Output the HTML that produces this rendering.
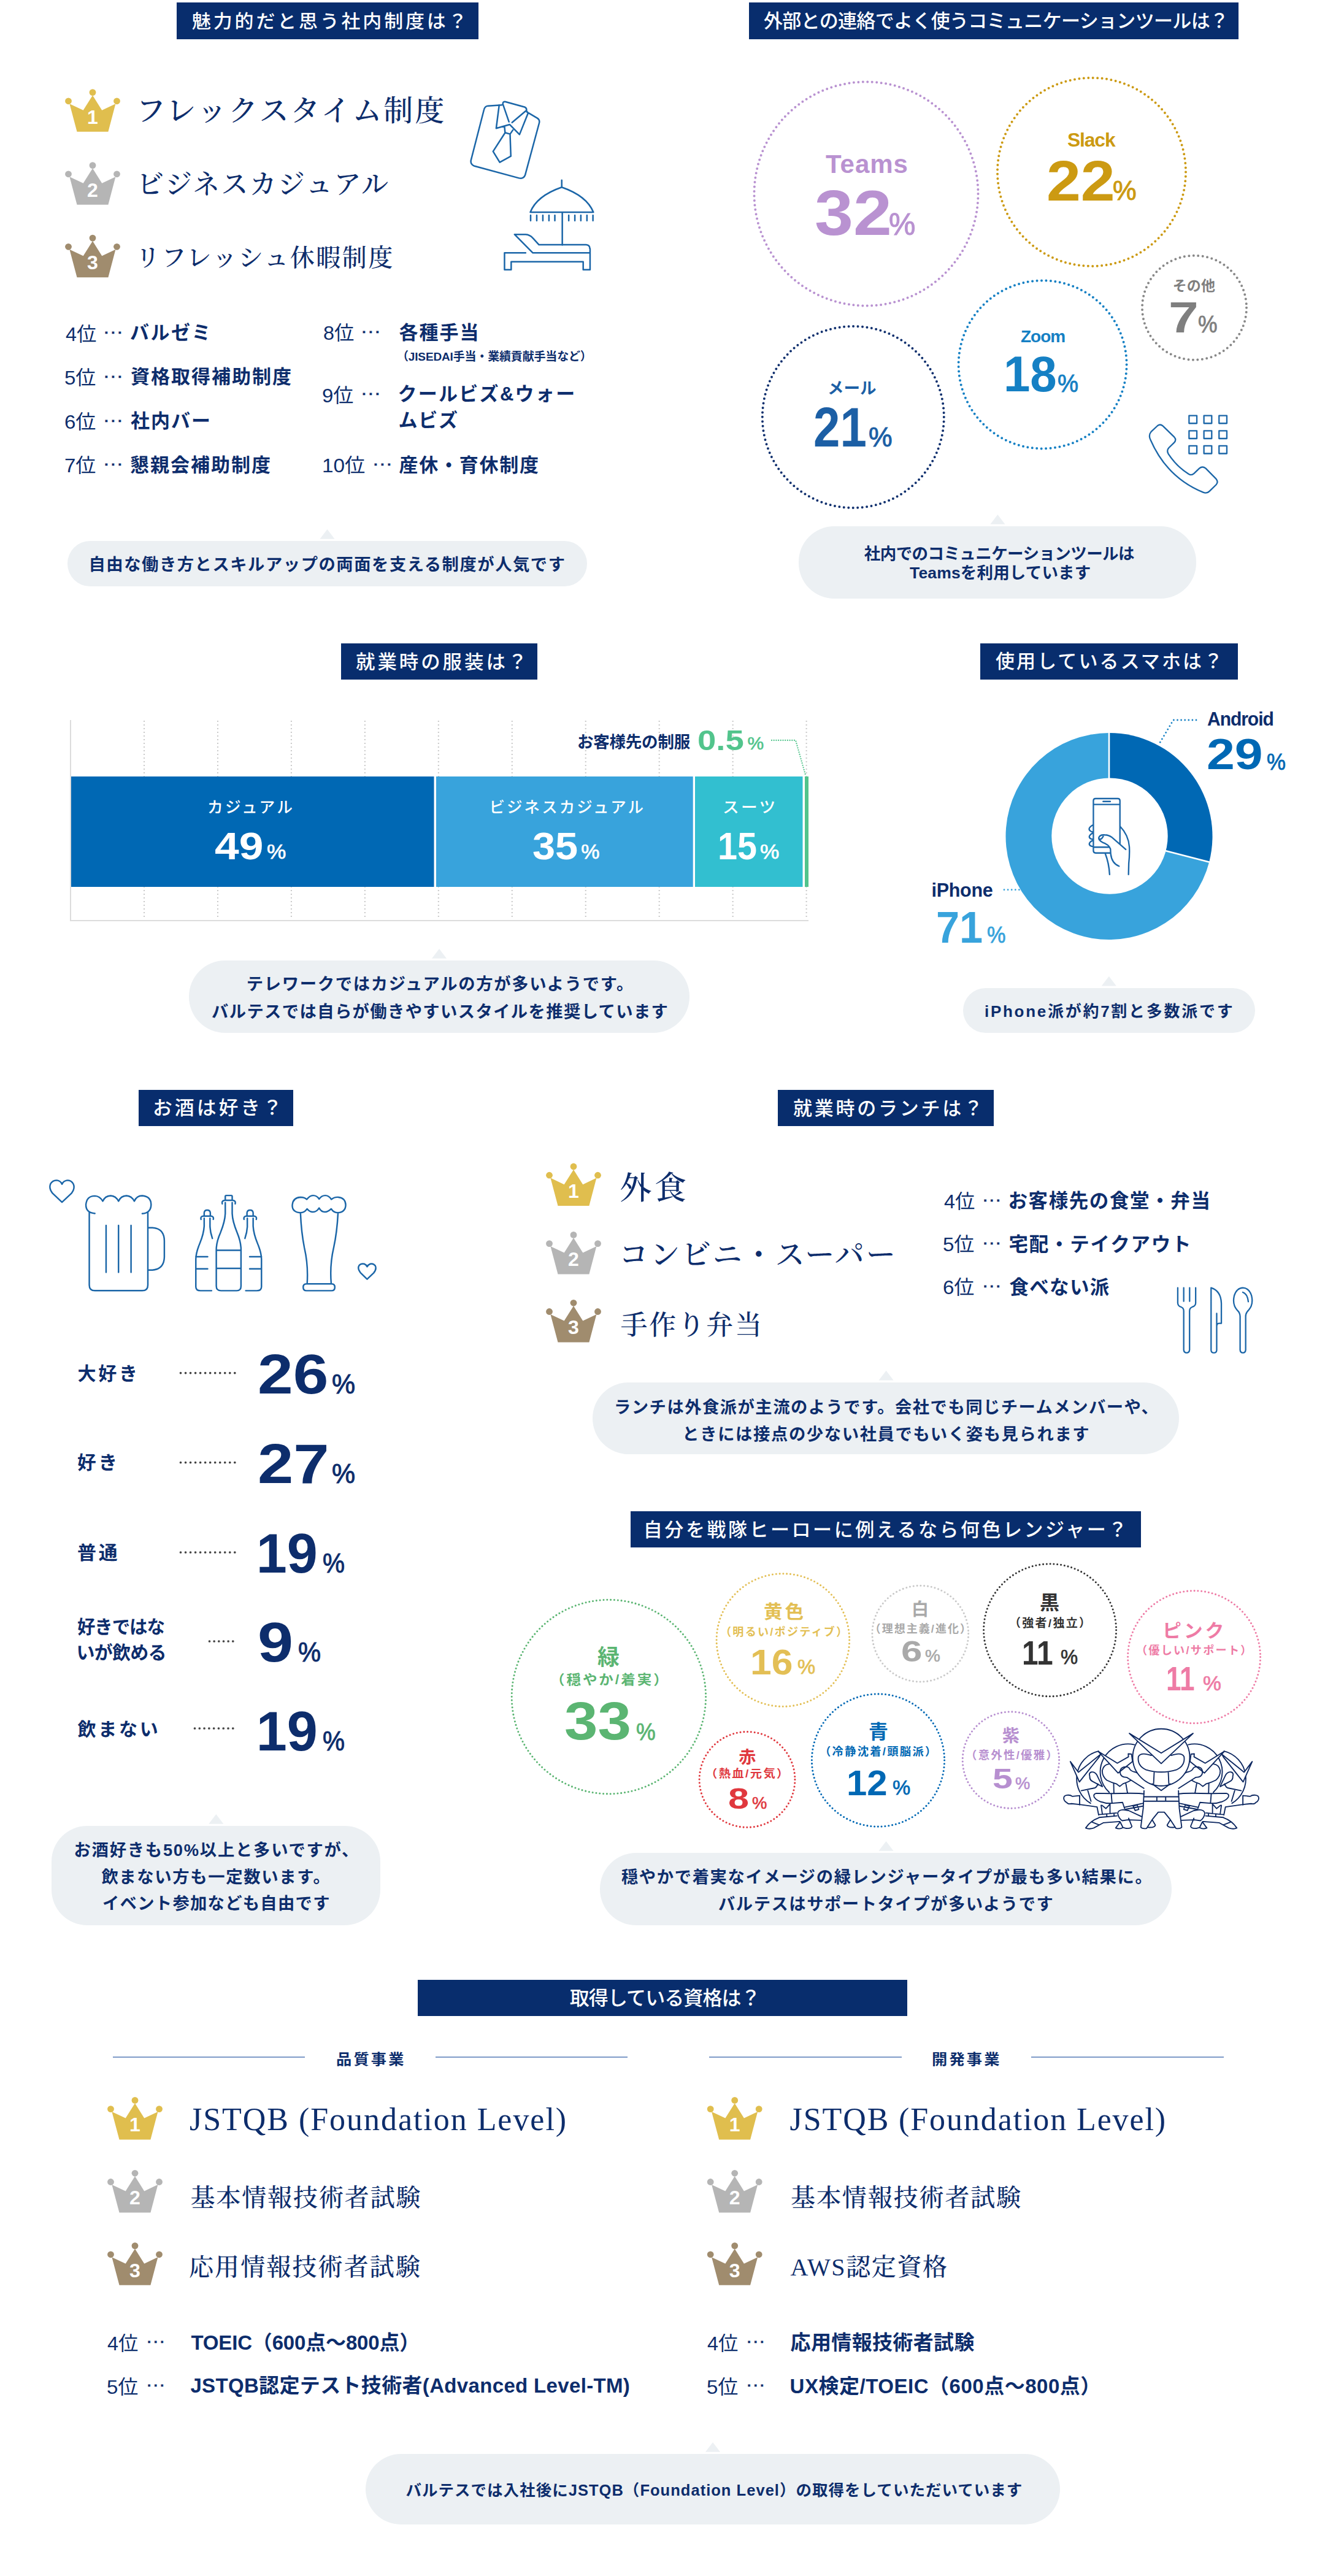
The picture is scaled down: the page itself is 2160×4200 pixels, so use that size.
<!DOCTYPE html>
<html lang="ja"><head><meta charset="utf-8"><title>アンケート結果</title>
<style>
html,body{margin:0;padding:0;background:#fff}
body{width:2160px;height:4200px;position:relative;overflow:hidden;color:#0d2d6c;font-family:"Liberation Sans","Noto Sans CJK JP",sans-serif}
.t{position:absolute;white-space:nowrap;font-weight:700;transform-origin:0 50%;margin:0}
.s{font-family:"Liberation Sans","Noto Sans CJK JP",sans-serif}.m{font-family:"Liberation Serif","Noto Serif CJK JP","Noto Serif CJK SC",serif}
.bx{position:absolute}
.tt{position:absolute;background:#082d6d}
.bb{position:absolute;background:#ecf0f3}
svg{position:absolute;left:0;top:0}
</style></head><body>
<section aria-label="魅力的だと思う社内制度は？">
<div class="tt" style="left:288px;top:4px;width:492px;height:60px"></div>
<div class="bb" style="left:110px;top:882px;width:847px;height:73.5px;border-radius:36.75px"></div>
<svg width="2160" height="4200" viewBox="0 0 2160 4200" aria-hidden="true">
<g transform="translate(106 146)" fill="#e0be4e"><circle cx="5.5" cy="18.8" r="5.4"/><circle cx="45" cy="4.6" r="5.4"/><circle cx="84.5" cy="18.8" r="5.4"/><path d="M7.4 23.2L19.5 68.7H70.4L82.4 23.2L60.2 33.8L45 9.5L29.7 33.8Z"/></g>
<g transform="translate(106 265)" fill="#b5b5b5"><circle cx="5.5" cy="18.8" r="5.4"/><circle cx="45" cy="4.6" r="5.4"/><circle cx="84.5" cy="18.8" r="5.4"/><path d="M7.4 23.2L19.5 68.7H70.4L82.4 23.2L60.2 33.8L45 9.5L29.7 33.8Z"/></g>
<g transform="translate(106 383.5)" fill="#a08c6e"><circle cx="5.5" cy="18.8" r="5.4"/><circle cx="45" cy="4.6" r="5.4"/><circle cx="84.5" cy="18.8" r="5.4"/><path d="M7.4 23.2L19.5 68.7H70.4L82.4 23.2L60.2 33.8L45 9.5L29.7 33.8Z"/></g>
<path d="M533.5 863.1 l12 15.7 h-24z" fill="#ecf0f3"/>
<g transform="translate(750 150) scale(0.18113)" fill="none" stroke="#1b66a8" stroke-width="13.80" stroke-linejoin="round" stroke-linecap="round"><path d="M375 117L250 125Q222 130 215 160L98 615Q92 650 125 665L530 775Q570 785 585 750L712 280Q720 250 695 235L602 180M385 108Q383 84 410 88L580 135Q603 145 597 168L612 190L535 383L447 293L325 327L352 118M385 108L440 268M592 170L468 275M400 313L405 366L450 379L475 343M405 367L297 535L357 633L457 578L450 380"/></g>
<g transform="translate(750 150) scale(0.18113)" fill="none" stroke="#1b66a8" stroke-width="13.80" stroke-linejoin="round" stroke-linecap="round"><path d="M915 793V856M632 1082Q690 935 915 857Q1140 935 1200 1082ZM920 1082V1378M635 1110V1158M690 1110V1158M745 1110V1158M800 1110V1158M853 1110V1158M978 1110V1158M1033 1110V1158M1087 1110V1158M1142 1110V1158M1196 1110V1158M655 1448L490 1282L590 1282Q630 1285 655 1315L710 1375L1135 1375Q1168 1378 1168 1410M655 1448L1168 1448M590 1448L400 1448L400 1600L460 1600L460 1528L1108 1528L1108 1600L1170 1600L1170 1410"/></g>
</svg>
<h2 class="t s" style="left:313.0px;top:15.0px;font-size:30px;line-height:39px;font-weight:500;color:#fff;letter-spacing:3.75px;transform:scaleX(1.031)">魅力的だと思う社内制度は？</h2>
<div class="t s" style="left:142.0px;top:169.6px;font-size:32px;line-height:42px;color:#fff">1</div>
<div class="t s" style="left:142.0px;top:288.6px;font-size:32px;line-height:42px;color:#fff">2</div>
<div class="t s" style="left:142.0px;top:407.1px;font-size:32px;line-height:42px;color:#fff">3</div>
<div class="t m" style="left:222.0px;top:149.5px;font-size:48px;line-height:62px;font-weight:500;letter-spacing:2.89px">フレックスタイム制度</div>
<div class="t m" style="left:223.0px;top:272.5px;font-size:44px;line-height:57px;font-weight:500;letter-spacing:2.25px">ビジネスカジュアル</div>
<div class="t m" style="left:221.0px;top:395.0px;font-size:40px;line-height:52px;font-weight:500;letter-spacing:2.44px">リフレッシュ休暇制度</div>
<div class="t s" style="left:106.5px;top:523.5px;font-size:32px;line-height:42px;font-weight:400;transform:scaleX(1.010)">4位</div>
<div class="t s" style="left:166.7px;top:512.0px;font-size:32px;line-height:42px;font-weight:400;-webkit-text-stroke:0.38px #0d2d6c;transform:scaleX(1.083)">…</div>
<div class="t s" style="left:105.4px;top:595.0px;font-size:32px;line-height:42px;font-weight:400;transform:scaleX(1.032)">5位</div>
<div class="t s" style="left:166.7px;top:583.5px;font-size:32px;line-height:42px;font-weight:400;-webkit-text-stroke:0.38px #0d2d6c;transform:scaleX(1.083)">…</div>
<div class="t s" style="left:105.4px;top:667.0px;font-size:32px;line-height:42px;font-weight:400;transform:scaleX(1.032)">6位</div>
<div class="t s" style="left:166.7px;top:655.5px;font-size:32px;line-height:42px;font-weight:400;-webkit-text-stroke:0.38px #0d2d6c;transform:scaleX(1.083)">…</div>
<div class="t s" style="left:105.4px;top:738.0px;font-size:32px;line-height:42px;font-weight:400;transform:scaleX(1.032)">7位</div>
<div class="t s" style="left:166.7px;top:726.5px;font-size:32px;line-height:42px;font-weight:400;-webkit-text-stroke:0.38px #0d2d6c;transform:scaleX(1.083)">…</div>
<div class="t s" style="left:212.0px;top:523.0px;font-size:31px;line-height:40px;letter-spacing:2.47px">バルゼミ</div>
<div class="t s" style="left:213.0px;top:594.5px;font-size:31px;line-height:40px;letter-spacing:2.00px">資格取得補助制度</div>
<div class="t s" style="left:213.0px;top:666.5px;font-size:31px;line-height:40px;letter-spacing:2.00px">社内バー</div>
<div class="t s" style="left:212.0px;top:738.5px;font-size:31px;line-height:40px;letter-spacing:2.00px">懇親会補助制度</div>
<div class="t s" style="left:526.5px;top:522.0px;font-size:32px;line-height:42px;font-weight:400;transform:scaleX(1.010)">8位</div>
<div class="t s" style="left:586.7px;top:510.5px;font-size:32px;line-height:42px;font-weight:400;-webkit-text-stroke:0.38px #0d2d6c;transform:scaleX(1.083)">…</div>
<div class="t s" style="left:525.4px;top:623.5px;font-size:32px;line-height:42px;font-weight:400;transform:scaleX(1.032)">9位</div>
<div class="t s" style="left:586.7px;top:612.0px;font-size:32px;line-height:42px;font-weight:400;-webkit-text-stroke:0.38px #0d2d6c;transform:scaleX(1.083)">…</div>
<div class="t s" style="left:525.4px;top:738.0px;font-size:32px;line-height:42px;font-weight:400;transform:scaleX(1.039)">10位</div>
<div class="t s" style="left:605.7px;top:726.5px;font-size:32px;line-height:42px;font-weight:400;-webkit-text-stroke:0.38px #0d2d6c;transform:scaleX(1.083)">…</div>
<div class="t s" style="left:650.5px;top:522.5px;font-size:31px;line-height:40px;letter-spacing:2.00px">各種手当</div>
<div class="t s" style="left:647.0px;top:568.5px;font-size:19px;line-height:25px;letter-spacing:-0.16px">（JISEDAI手当・業績貢献手当など）</div>
<div class="t s" style="left:648.5px;top:623.0px;font-size:31px;line-height:40px;letter-spacing:2.28px">クールビズ&amp;ウォー</div>
<div class="t s" style="left:649.5px;top:665.6px;font-size:31px;line-height:40px;letter-spacing:1.75px">ムビズ</div>
<div class="t s" style="left:650.5px;top:738.5px;font-size:31px;line-height:40px;letter-spacing:1.75px">産休・育休制度</div>
<div class="t s" style="left:144.5px;top:902.5px;font-size:27.3px;line-height:35px;letter-spacing:1.55px">自由な働き方とスキルアップの両面を支える制度が人気です</div>
</section>
<section aria-label="外部との連絡でよく使うコミュニケーションツールは？">
<div class="tt" style="left:1221px;top:4px;width:798px;height:60px"></div>
<div class="bb" style="left:1302px;top:858px;width:648px;height:117.5px;border-radius:58px"></div>
<svg width="2160" height="4200" viewBox="0 0 2160 4200" aria-hidden="true">
<circle cx="1412" cy="316" r="182.5" fill="none" stroke="#b992d1" stroke-width="4" stroke-linecap="round" stroke-dasharray="0 7.495"/>
<circle cx="1779.5" cy="280.4" r="153.5" fill="none" stroke="#cc9a12" stroke-width="4" stroke-linecap="round" stroke-dasharray="0 7.477"/>
<circle cx="1947" cy="501.7" r="85" fill="none" stroke="#888" stroke-width="4" stroke-linecap="round" stroke-dasharray="0 7.522"/>
<circle cx="1699.6" cy="594.4" r="137" fill="none" stroke="#1580c4" stroke-width="4" stroke-linecap="round" stroke-dasharray="0 7.485"/>
<circle cx="1390.8" cy="680" r="148" fill="none" stroke="#10306e" stroke-width="4" stroke-linecap="round" stroke-dasharray="0 7.499"/>
<path d="M1626.4 839.1 l12 15.7 h-24z" fill="#ecf0f3"/>
<g transform="translate(1860 665) scale(0.12075)" fill="none" stroke="#1b66a8" stroke-width="19.05" stroke-linejoin="round" stroke-linecap="round"><path d="M649 104h105v105h-105zM649 309h105v105h-105zM649 512h105v105h-105zM850 104h105v105h-105zM850 309h105v105h-105zM850 512h105v105h-105zM1054 104h105v105h-105zM1054 309h105v105h-105zM1054 512h105v105h-105zM225 240Q260 213 297 245L450 395Q482 430 450 467L375 540Q343 575 370 622Q480 790 645 895Q682 917 717 885L790 815Q830 783 872 815L1015 960Q1048 1000 1015 1037L925 1125Q890 1162 838 1140Q350 940 128 430Q98 370 137 322Z"/></g>
</svg>
<h2 class="t s" style="left:1245.0px;top:15.0px;font-size:31px;line-height:40px;font-weight:500;color:#fff;letter-spacing:-0.67px">外部との連絡でよく使うコミュニケーションツールは？</h2>
<div class="t s" style="left:1346.0px;top:240.0px;font-size:42px;line-height:55px;color:#b992d1;letter-spacing:1.00px">Teams</div>
<div class="t s" style="left:1327.7px;top:281.0px;font-size:103px;line-height:134px;color:#b992d1;transform:scaleX(1.098)">32</div>
<div class="t s" style="left:1449.0px;top:334.0px;font-size:50px;line-height:65px;font-weight:400;color:#b992d1;-webkit-text-stroke:1.10px #b992d1;transform:scaleX(0.976)">%</div>
<div class="t s" style="left:1740.0px;top:207.0px;font-size:32px;line-height:42px;color:#cc9a12;letter-spacing:-1.12px;transform:scaleX(0.993)">Slack</div>
<div class="t s" style="left:1705.7px;top:234.8px;font-size:92px;line-height:120px;color:#cc9a12;transform:scaleX(1.092)">22</div>
<div class="t s" style="left:1814.0px;top:282.3px;font-size:45px;line-height:58px;font-weight:400;color:#cc9a12;-webkit-text-stroke:0.99px #cc9a12;transform:scaleX(0.966)">%</div>
<div class="t s" style="left:1911.7px;top:450.5px;font-size:23px;line-height:30px;color:#7f7f7f;letter-spacing:0.15px">その他</div>
<div class="t s" style="left:1904.9px;top:472.5px;font-size:70px;line-height:91px;color:#7f7f7f;transform:scaleX(1.252)">7</div>
<div class="t s" style="left:1952.8px;top:505.0px;font-size:38px;line-height:49px;font-weight:400;color:#7f7f7f;-webkit-text-stroke:0.84px #7f7f7f;transform:scaleX(0.934)">%</div>
<div class="t s" style="left:1664.0px;top:531.2px;font-size:28px;line-height:36px;color:#1580c4;letter-spacing:-0.98px">Zoom</div>
<div class="t s" style="left:1635.6px;top:556.1px;font-size:82px;line-height:107px;color:#1580c4;transform:scaleX(0.951)">18</div>
<div class="t s" style="left:1724.3px;top:599.1px;font-size:40px;line-height:52px;font-weight:400;color:#1580c4;-webkit-text-stroke:0.88px #1580c4;transform:scaleX(0.956)">%</div>
<div class="t s" style="left:1349.0px;top:615.5px;font-size:26.5px;line-height:34px;color:#1c5fa5">メール</div>
<div class="t s" style="left:1325.8px;top:638.8px;font-size:90px;line-height:117px;color:#1c5fa5;transform:scaleX(0.867)">21</div>
<div class="t s" style="left:1416.3px;top:684.0px;font-size:44px;line-height:57px;font-weight:400;color:#1c5fa5;-webkit-text-stroke:0.97px #1c5fa5;transform:scaleX(0.986)">%</div>
<div class="t s" style="left:1408.8px;top:886.0px;font-size:26.5px;line-height:34px;letter-spacing:-0.58px">社内でのコミュニケーションツールは</div>
<div class="t s" style="left:1483.0px;top:917.1px;font-size:26.5px;line-height:34px;letter-spacing:0.17px">Teamsを利用しています</div>
</section>
<section aria-label="就業時の服装は？">
<div class="tt" style="left:556px;top:1048.5px;width:320px;height:59px"></div>
<div class="bx" style="left:114px;top:1174px;width:2px;height:327px;background:#dcdcdc"></div>
<div class="bx" style="left:114px;top:1499.5px;width:1204px;height:2px;background:#dcdcdc"></div>
<div class="bb" style="left:308px;top:1566px;width:816px;height:117.5px;border-radius:58.75px"></div>
<svg width="2160" height="4200" viewBox="0 0 2160 4200" aria-hidden="true">
<path d="M235 1175V1499" stroke="#c9c9c9" stroke-width="2" stroke-dasharray="2 4" fill="none"/>
<path d="M354.956 1175V1499" stroke="#c9c9c9" stroke-width="2" stroke-dasharray="2 4" fill="none"/>
<path d="M474.911 1175V1499" stroke="#c9c9c9" stroke-width="2" stroke-dasharray="2 4" fill="none"/>
<path d="M594.867 1175V1499" stroke="#c9c9c9" stroke-width="2" stroke-dasharray="2 4" fill="none"/>
<path d="M714.822 1175V1499" stroke="#c9c9c9" stroke-width="2" stroke-dasharray="2 4" fill="none"/>
<path d="M834.778 1175V1499" stroke="#c9c9c9" stroke-width="2" stroke-dasharray="2 4" fill="none"/>
<path d="M954.733 1175V1499" stroke="#c9c9c9" stroke-width="2" stroke-dasharray="2 4" fill="none"/>
<path d="M1074.69 1175V1499" stroke="#c9c9c9" stroke-width="2" stroke-dasharray="2 4" fill="none"/>
<path d="M1194.64 1175V1499" stroke="#c9c9c9" stroke-width="2" stroke-dasharray="2 4" fill="none"/>
<path d="M1314.6 1175V1499" stroke="#c9c9c9" stroke-width="2" stroke-dasharray="2 4" fill="none"/>
<rect x="116" y="1266" width="591.5" height="180" fill="#0068b4"/>
<rect x="711" y="1266" width="418.7" height="180" fill="#38a3dc"/>
<rect x="1133" y="1266" width="175.5" height="180" fill="#32bfd0"/>
<rect x="1312" y="1266" width="6" height="180" fill="#52c48c"/>
<polyline points="1258,1207 1297,1207 1313.5,1265" fill="none" stroke="#52c48c" stroke-width="2.3" stroke-linecap="round" stroke-linejoin="round" stroke-dasharray="0 3.7"/>
<path d="M716 1547.1 l12 15.7 h-24z" fill="#ecf0f3"/>
</svg>
<h2 class="t s" style="left:580.0px;top:1059.5px;font-size:31px;line-height:40px;font-weight:500;color:#fff;letter-spacing:3.88px;transform:scaleX(1.015)">就業時の服装は？</h2>
<div class="t s" style="left:338.0px;top:1300.0px;font-size:25.5px;line-height:33px;font-weight:500;color:#fff;letter-spacing:3.19px;transform:scaleX(1.009)">カジュアル</div>
<div class="t s" style="left:350.2px;top:1338.2px;font-size:63px;line-height:82px;color:#fff;transform:scaleX(1.133)">49</div>
<div class="t s" style="left:434.7px;top:1366.2px;font-size:34px;line-height:44px;font-weight:400;color:#fff;-webkit-text-stroke:0.75px #fff;transform:scaleX(1.036)">%</div>
<div class="t s" style="left:797.4px;top:1300.3px;font-size:25.5px;line-height:33px;font-weight:500;color:#fff;letter-spacing:3.08px">ビジネスカジュアル</div>
<div class="t s" style="left:867.8px;top:1338.2px;font-size:63px;line-height:82px;color:#fff;transform:scaleX(1.059)">35</div>
<div class="t s" style="left:947.3px;top:1366.2px;font-size:34px;line-height:44px;font-weight:400;color:#fff;-webkit-text-stroke:0.75px #fff">%</div>
<div class="t s" style="left:1177.9px;top:1299.8px;font-size:25.5px;line-height:33px;font-weight:500;color:#fff;letter-spacing:3.19px;transform:scaleX(1.047)">スーツ</div>
<div class="t s" style="left:1169.9px;top:1337.7px;font-size:63px;line-height:82px;color:#fff;transform:scaleX(0.913)">15</div>
<div class="t s" style="left:1238.6px;top:1366.2px;font-size:34px;line-height:44px;font-weight:400;color:#fff;-webkit-text-stroke:0.75px #fff;transform:scaleX(1.036)">%</div>
<div class="t s" style="left:941.0px;top:1192.5px;font-size:26.5px;line-height:34px;letter-spacing:-0.22px">お客様先の制服</div>
<div class="t s" style="left:1137.3px;top:1177.3px;font-size:46px;line-height:60px;color:#52c48c;transform:scaleX(1.185)">0.5</div>
<div class="t s" style="left:1218.6px;top:1192.3px;font-size:30px;line-height:39px;font-weight:400;color:#52c48c;-webkit-text-stroke:0.66px #52c48c">%</div>
<div class="t s" style="left:401.7px;top:1587.0px;font-size:27.3px;line-height:35px;letter-spacing:1.72px">テレワークではカジュアルの方が多いようです。</div>
<div class="t s" style="left:345.0px;top:1632.0px;font-size:27.3px;line-height:35px;letter-spacing:1.40px">バルテスでは自らが働きやすいスタイルを推奨しています</div>
</section>
<section aria-label="使用しているスマホは？">
<div class="tt" style="left:1598px;top:1048.5px;width:419.6px;height:59px"></div>
<div class="bb" style="left:1570.4px;top:1610.6px;width:475.6px;height:73px;border-radius:36.5px"></div>
<svg width="2160" height="4200" viewBox="0 0 2160 4200" aria-hidden="true">
<path d="M1808.00 1195.00A168.5 168.5 0 0 1 1971.21 1405.40L1808 1363.5Z" fill="#0068b4"/>
<path d="M1971.21 1405.40A168.5 168.5 0 1 1 1808.00 1195.00L1808 1363.5Z" fill="#38a3dc"/>
<path d="M1808.00 1270.10L1808.00 1194.00" stroke="#fff" stroke-width="2.6"/>
<path d="M1898.47 1386.73L1972.17 1405.65" stroke="#fff" stroke-width="2.6"/>
<circle cx="1809" cy="1363.1" r="94.7" fill="#fff"/>
<polyline points="1950,1174 1912.7,1174 1889,1214" fill="none" stroke="#1580c4" stroke-width="2.8" stroke-linecap="round" stroke-linejoin="round" stroke-dasharray="0 6.1"/>
<polyline points="1637,1450.7 1663,1450.7" fill="none" stroke="#38a3dc" stroke-width="2.8" stroke-linecap="round" stroke-linejoin="round" stroke-dasharray="0 6.1"/>
<path d="M1807.8 1591.7 l12 15.7 h-24z" fill="#ecf0f3"/>
<g transform="translate(1750 1290) scale(0.09057)" fill="none" stroke="#1b66a8" stroke-width="25.95" stroke-linejoin="round" stroke-linecap="round"><path d="M836 955L836 172Q836 132 796 132L398 132Q358 132 358 172L358 1072Q358 1112 398 1112L665 1112M358 238H836M358 1008H640M352 608Q272 650 283 692Q295 727 358 735M358 745Q278 790 285 827Q295 862 358 868M355 880Q278 920 285 957Q295 990 347 995M940 1048L690 830Q640 790 560 787Q470 780 455 840Q450 880 520 920Q640 960 665 1040L670 1130Q690 1300 820 1350M535 812Q500 872 478 862M840 635Q990 790 1005 1000Q1012 1150 995 1300L990 1500M570 1118Q640 1300 650 1500"/><path d="M535 185H660" stroke-width="30"/></g>
</svg>
<h2 class="t s" style="left:1623.0px;top:1059.0px;font-size:31px;line-height:40px;font-weight:500;color:#fff;letter-spacing:3.10px">使用しているスマホは？</h2>
<div class="t s" style="left:1968.0px;top:1151.5px;font-size:30.5px;line-height:40px;letter-spacing:-1.07px;transform:scaleX(0.985)">Android</div>
<div class="t s" style="left:1966.6px;top:1185.3px;font-size:70px;line-height:91px;color:#0068b4;transform:scaleX(1.178)">29</div>
<div class="t s" style="left:2065.0px;top:1218.5px;font-size:36px;line-height:47px;font-weight:400;color:#0068b4;-webkit-text-stroke:0.79px #0068b4;transform:scaleX(0.967)">%</div>
<div class="t s" style="left:1518.5px;top:1430.5px;font-size:30.5px;line-height:40px;letter-spacing:-0.30px">iPhone</div>
<div class="t s" style="left:1526.1px;top:1464.5px;font-size:72px;line-height:94px;color:#38a3dc;transform:scaleX(0.952)">71</div>
<div class="t s" style="left:1609.4px;top:1500.8px;font-size:36px;line-height:47px;font-weight:400;color:#38a3dc;-webkit-text-stroke:0.79px #38a3dc;transform:scaleX(0.953)">%</div>
<div class="t s" style="left:1605.0px;top:1632.0px;font-size:26px;line-height:34px;letter-spacing:2.72px">iPhone派が約7割と多数派です</div>
</section>
<section aria-label="お酒は好き？">
<div class="tt" style="left:226px;top:1776.5px;width:252px;height:59.5px"></div>
<div class="bb" style="left:84px;top:2977px;width:535.6px;height:161.5px;border-radius:58px"></div>
<svg width="2160" height="4200" viewBox="0 0 2160 4200" aria-hidden="true">
<path d="M294.5 2238.6H385" stroke="#444" stroke-width="3.7" stroke-linecap="round" stroke-dasharray="0 8.027" fill="none"/>
<path d="M294.5 2384.5H385" stroke="#444" stroke-width="3.7" stroke-linecap="round" stroke-dasharray="0 8.027" fill="none"/>
<path d="M294.5 2531H385" stroke="#444" stroke-width="3.7" stroke-linecap="round" stroke-dasharray="0 8.027" fill="none"/>
<path d="M341.5 2676H382" stroke="#444" stroke-width="3.7" stroke-linecap="round" stroke-dasharray="0 7.660" fill="none"/>
<path d="M317.5 2818H382" stroke="#444" stroke-width="3.7" stroke-linecap="round" stroke-dasharray="0 7.787" fill="none"/>
<path d="M352.3 2958.1 l12 15.7 h-24z" fill="#ecf0f3"/>
<g transform="translate(70 1915) scale(0.16604)" fill="none" stroke="#1b66a8" stroke-width="14.76" stroke-linejoin="round" stroke-linecap="round"><path d="M187 272L95 185Q55 135 75 90Q100 50 145 58Q175 65 187 95Q200 65 232 58Q275 50 298 92Q318 135 280 185ZM455 370L455 1085Q455 1140 510 1140L975 1140Q1030 1140 1030 1085L1030 370M510 382Q420 375 422 295Q430 210 510 210Q560 212 587 262Q610 210 665 208Q715 210 742 262Q765 210 820 208Q870 210 897 262Q920 208 975 208Q1060 215 1062 295Q1060 378 975 384M1030 522L1075 522Q1190 530 1192 650L1192 810Q1188 930 1075 938L1030 938M620 500V960M742 500V960M865 500V960"/></g>
<g transform="translate(300 1935) scale(0.25661)" fill="none" stroke="#1b66a8" stroke-width="9.55" stroke-linejoin="round" stroke-linecap="round"><path d="M262 85L262 60Q262 55 268 55L300 55Q306 55 306 60L306 85M243 108Q238 88 258 86L310 86Q330 88 325 108M262 100L262 170Q260 220 232 290Q205 350 205 400L205 630Q205 660 235 660L335 660Q362 660 362 630L362 400Q362 350 337 290Q308 220 306 170L306 100M205 403H362M205 518H362M128 182L128 165Q130 148 147 148Q165 148 167 165L167 182M108 207Q103 188 122 186L172 186Q190 188 186 207M128 200L128 250Q125 300 100 360Q75 420 75 460L75 635Q75 660 105 660L175 660M165 200L165 255Q167 290 180 328M75 444H150M75 521H150M439 182L439 165Q437 148 420 148Q402 148 400 165L400 182M459 207Q464 188 445 186L395 186Q377 188 381 207M439 200L439 250Q442 300 467 360Q492 420 492 460L492 635Q492 660 462 660L392 660M402 200L402 255Q400 290 387 328M492 444H417M492 521H417M738 165Q685 160 688 115Q692 68 740 66Q765 66 780 80Q800 55 820 55Q845 55 858 78Q875 55 897 55Q920 55 936 80Q955 64 980 66Q1025 70 1027 115Q1027 160 978 165Q950 165 935 140Q915 160 895 160Q872 160 858 135Q842 160 820 160Q798 160 782 140Q765 165 738 165ZM740 170Q745 290 765 390Q790 500 782 615M978 170Q972 290 950 390Q925 500 935 615M778 617H937Q958 617 958 638Q958 660 937 660H778Q757 660 757 638Q757 617 778 617ZM1163 587L1120 545Q1100 520 1112 500Q1125 485 1145 490Q1158 495 1163 508Q1170 495 1183 490Q1203 485 1215 502Q1225 522 1205 547Z"/></g>
</svg>
<h2 class="t s" style="left:249.3px;top:1787.0px;font-size:31px;line-height:40px;font-weight:500;color:#fff;letter-spacing:3.88px;transform:scaleX(1.027)">お酒は好き？</h2>
<div class="t s" style="left:126.4px;top:2219.6px;font-size:30px;line-height:39px;letter-spacing:3.75px">大好き</div>
<div class="t s" style="left:420.2px;top:2182.5px;font-size:90px;line-height:117px;transform:scaleX(1.152)">26</div>
<div class="t s" style="left:541.0px;top:2227.5px;font-size:44px;line-height:57px;font-weight:400;-webkit-text-stroke:0.97px #0d2d6c;transform:scaleX(0.973)">%</div>
<div class="t s" style="left:126.4px;top:2365.0px;font-size:30px;line-height:39px;letter-spacing:3.75px;transform:scaleX(1.021)">好き</div>
<div class="t s" style="left:420.2px;top:2329.0px;font-size:90px;line-height:117px;transform:scaleX(1.165)">27</div>
<div class="t s" style="left:541.0px;top:2374.0px;font-size:44px;line-height:57px;font-weight:400;-webkit-text-stroke:0.97px #0d2d6c;transform:scaleX(0.973)">%</div>
<div class="t s" style="left:126.4px;top:2512.0px;font-size:30px;line-height:39px;letter-spacing:3.75px;transform:scaleX(1.030)">普通</div>
<div class="t s" style="left:417.7px;top:2474.5px;font-size:90px;line-height:117px">19</div>
<div class="t s" style="left:526.1px;top:2519.5px;font-size:44px;line-height:57px;font-weight:400;-webkit-text-stroke:0.97px #0d2d6c;transform:scaleX(0.919)">%</div>
<div class="t s" style="left:126.4px;top:2632.5px;font-size:30px;line-height:39px;letter-spacing:-1.05px;transform:scaleX(0.980)">好きではな</div>
<div class="t s" style="left:124.4px;top:2674.5px;font-size:30px;line-height:39px;letter-spacing:-0.75px">いが飲める</div>
<div class="t s" style="left:420.2px;top:2620.3px;font-size:90px;line-height:117px;transform:scaleX(1.159)">9</div>
<div class="t s" style="left:486.1px;top:2665.3px;font-size:44px;line-height:57px;font-weight:400;-webkit-text-stroke:0.97px #0d2d6c;transform:scaleX(0.946)">%</div>
<div class="t s" style="left:126.4px;top:2799.5px;font-size:30px;line-height:39px;letter-spacing:3.75px">飲まない</div>
<div class="t s" style="left:417.7px;top:2765.2px;font-size:90px;line-height:117px">19</div>
<div class="t s" style="left:526.1px;top:2810.2px;font-size:44px;line-height:57px;font-weight:400;-webkit-text-stroke:0.97px #0d2d6c;transform:scaleX(0.919)">%</div>
<div class="t s" style="left:120.5px;top:2999.1px;font-size:27.3px;line-height:35px;letter-spacing:1.78px">お酒好きも50%以上と多いですが、</div>
<div class="t s" style="left:165.4px;top:3043.1px;font-size:27.3px;line-height:35px;letter-spacing:1.68px">飲まない方も一定数います。</div>
<div class="t s" style="left:167.0px;top:3085.5px;font-size:27.3px;line-height:35px;letter-spacing:1.30px">イベント参加なども自由です</div>
</section>
<section aria-label="就業時のランチは？">
<div class="tt" style="left:1268px;top:1776.5px;width:352px;height:59.5px"></div>
<div class="bb" style="left:966.4px;top:2253.6px;width:955.3px;height:117.4px;border-radius:58.7px"></div>
<svg width="2160" height="4200" viewBox="0 0 2160 4200" aria-hidden="true">
<g transform="translate(890 1897.4)" fill="#e0be4e"><circle cx="5.5" cy="18.8" r="5.4"/><circle cx="45" cy="4.6" r="5.4"/><circle cx="84.5" cy="18.8" r="5.4"/><path d="M7.4 23.2L19.5 68.7H70.4L82.4 23.2L60.2 33.8L45 9.5L29.7 33.8Z"/></g>
<g transform="translate(890 2008.8)" fill="#b5b5b5"><circle cx="5.5" cy="18.8" r="5.4"/><circle cx="45" cy="4.6" r="5.4"/><circle cx="84.5" cy="18.8" r="5.4"/><path d="M7.4 23.2L19.5 68.7H70.4L82.4 23.2L60.2 33.8L45 9.5L29.7 33.8Z"/></g>
<g transform="translate(890 2119.7)" fill="#a08c6e"><circle cx="5.5" cy="18.8" r="5.4"/><circle cx="45" cy="4.6" r="5.4"/><circle cx="84.5" cy="18.8" r="5.4"/><path d="M7.4 23.2L19.5 68.7H70.4L82.4 23.2L60.2 33.8L45 9.5L29.7 33.8Z"/></g>
<path d="M1444.6 2234.7 l12 15.7 h-24z" fill="#ecf0f3"/>
<g transform="translate(1905 2090) scale(0.11321)" fill="none" stroke="#1b66a8" stroke-width="20.32" stroke-linejoin="round" stroke-linecap="round"><path d="M132 85L132 305Q135 350 180 362Q218 375 218 420L218 980Q222 1022 260 1022Q298 1022 302 980L302 420Q302 375 340 362Q388 350 390 305L390 85M218 85V280M303 85V280M612 85Q755 130 760 310L760 598L725 598Q695 600 693 640L693 985Q690 1022 652 1022Q615 1022 612 985ZM693 455V640M1070 85Q980 88 945 200Q915 330 990 410Q1030 445 1030 500L1030 980Q1033 1022 1070 1022Q1107 1022 1110 980L1110 500Q1110 445 1150 410Q1225 330 1195 200Q1160 88 1070 85ZM1068 150Q1135 170 1148 285"/></g>
</svg>
<h2 class="t s" style="left:1293.0px;top:1787.5px;font-size:31px;line-height:40px;font-weight:500;color:#fff;letter-spacing:3.75px">就業時のランチは？</h2>
<div class="t s" style="left:926.0px;top:1921.0px;font-size:32px;line-height:42px;color:#fff">1</div>
<div class="t s" style="left:926.0px;top:2032.4px;font-size:32px;line-height:42px;color:#fff">2</div>
<div class="t s" style="left:926.0px;top:2143.3px;font-size:32px;line-height:42px;color:#fff">3</div>
<div class="t m" style="left:1010.4px;top:1904.0px;font-size:52px;line-height:68px;font-weight:500;letter-spacing:4.60px">外食</div>
<div class="t m" style="left:1009.0px;top:2015.3px;font-size:48px;line-height:62px;font-weight:500;letter-spacing:2.95px">コンビニ・スーパー</div>
<div class="t m" style="left:1011.4px;top:2132.7px;font-size:44px;line-height:57px;font-weight:500;letter-spacing:2.65px">手作り弁当</div>
<div class="t s" style="left:1538.5px;top:1938.4px;font-size:32px;line-height:42px;font-weight:400;transform:scaleX(1.010)">4位</div>
<div class="t s" style="left:1599.8px;top:1926.9px;font-size:32px;line-height:42px;font-weight:400;-webkit-text-stroke:0.38px #0d2d6c;transform:scaleX(1.042)">…</div>
<div class="t s" style="left:1537.4px;top:2008.3px;font-size:32px;line-height:42px;font-weight:400;transform:scaleX(1.032)">5位</div>
<div class="t s" style="left:1599.8px;top:1996.8px;font-size:32px;line-height:42px;font-weight:400;-webkit-text-stroke:0.38px #0d2d6c;transform:scaleX(1.042)">…</div>
<div class="t s" style="left:1537.4px;top:2078.3px;font-size:32px;line-height:42px;font-weight:400;transform:scaleX(1.032)">6位</div>
<div class="t s" style="left:1599.8px;top:2066.8px;font-size:32px;line-height:42px;font-weight:400;-webkit-text-stroke:0.38px #0d2d6c;transform:scaleX(1.042)">…</div>
<div class="t s" style="left:1643.4px;top:1938.4px;font-size:31.5px;line-height:41px;letter-spacing:1.62px">お客様先の食堂・弁当</div>
<div class="t s" style="left:1644.4px;top:2008.8px;font-size:31.5px;line-height:41px;letter-spacing:1.79px">宅配・テイクアウト</div>
<div class="t s" style="left:1645.4px;top:2078.8px;font-size:31.5px;line-height:41px;letter-spacing:1.35px">食べない派</div>
<div class="t s" style="left:1001.0px;top:2277.1px;font-size:27.3px;line-height:35px;letter-spacing:1.50px">ランチは外食派が主流のようです。会社でも同じチームメンバーや、</div>
<div class="t s" style="left:1112.3px;top:2320.5px;font-size:27.3px;line-height:35px;letter-spacing:1.64px">ときには接点の少ない社員でもいく姿も見られます</div>
</section>
<section aria-label="自分を戦隊ヒーローに例えるなら何色レンジャー？">
<div class="tt" style="left:1027.8px;top:2464px;width:832px;height:59.4px"></div>
<div class="bb" style="left:978.4px;top:3021px;width:931.3px;height:117.5px;border-radius:58.75px"></div>
<svg width="2160" height="4200" viewBox="0 0 2160 4200" aria-hidden="true">
<circle cx="992.4" cy="2766.5" r="158.2" fill="none" stroke="#5bb572" stroke-width="3.1" stroke-linecap="round" stroke-dasharray="0 5.847"/>
<circle cx="1276.4" cy="2674" r="108.3" fill="none" stroke="#e3bf55" stroke-width="3.1" stroke-linecap="round" stroke-dasharray="0 5.866"/>
<circle cx="1218" cy="2901.4" r="77.9" fill="none" stroke="#e0383e" stroke-width="3.1" stroke-linecap="round" stroke-dasharray="0 5.827"/>
<circle cx="1431.5" cy="2870" r="108.1" fill="none" stroke="#0068b4" stroke-width="3.1" stroke-linecap="round" stroke-dasharray="0 5.855"/>
<circle cx="1500.3" cy="2663.6" r="78.4" fill="none" stroke="#c9c9c9" stroke-width="3.1" stroke-linecap="round" stroke-dasharray="0 5.864"/>
<circle cx="1711.6" cy="2657.8" r="108" fill="none" stroke="#333333" stroke-width="3.1" stroke-linecap="round" stroke-dasharray="0 5.850"/>
<circle cx="1946.6" cy="2701.6" r="108" fill="none" stroke="#ee7ba5" stroke-width="3.1" stroke-linecap="round" stroke-dasharray="0 5.850"/>
<circle cx="1647.9" cy="2869.6" r="78.7" fill="none" stroke="#b78fd0" stroke-width="3.1" stroke-linecap="round" stroke-dasharray="0 5.817"/>
<path d="M1444.5 3002.1 l12 15.7 h-24z" fill="#ecf0f3"/>
<g transform="translate(1725 2810) scale(0.13208)" fill="none" stroke="#0c2760" stroke-width="14.01" stroke-linejoin="round" stroke-linecap="round"><path d="M630 850A344 344 0 0 1 940 262M497 341A352 352 0 0 0 400 985" fill="none"/><path transform="translate(2545 0) scale(-1 1)" d="M630 850A344 344 0 0 1 940 262M497 341A352 352 0 0 0 400 985" fill="none"/><path d="M150 470L250 602L522 383L505 415L262 722Z" fill="#fff"/><path transform="translate(2545 0) scale(-1 1)" d="M150 470L250 602L522 383L505 415L262 722Z" fill="#fff"/><path d="M495 345L730 490L868 412L865 375L905 378L918 470L740 612Z" fill="#fff"/><path transform="translate(2545 0) scale(-1 1)" d="M495 345L730 490L868 412L865 375L905 378L918 470L740 612Z" fill="#fff"/><path d="M625 500Q560 510 545 580Q540 650 600 700Q660 730 722 747L760 777L800 745Q860 725 900 700M985 615L950 600Q900 590 885 565Q870 530 830 535Q760 540 765 610Q770 662 845 665L1058 800M685 740L688 860M835 740L855 855M1060 870Q1000 855 660 865L470 862Q430 870 445 910Q480 960 560 975Q600 990 660 985L795 975L820 1050M655 865L665 985M820 1035L1050 985M830 1060L1045 1020M925 1020L975 1005L995 1060L950 1075ZM1030 1150L870 1075L800 1065Q740 1070 735 1110Q745 1170 790 1200L860 1190L1020 1195M765 1215L710 1290Q760 1310 800 1285L765 1215M870 1170L910 1270Q900 1300 840 1295L800 1285M545 775L480 640Q455 595 410 600Q375 610 390 650Q385 700 430 718L545 780M285 830L455 795Q480 780 490 745M365 825L405 960M265 890L175 900Q150 880 110 885Q65 890 70 930Q75 960 105 975Q120 1000 165 990L265 1000M265 890V1005M265 1000L480 1030L500 1130M530 1010L545 1115M640 990L640 1110M540 1010L590 1050L635 1000M500 1125L720 1105M505 1160L725 1140M600 1120V1150M690 1110V1140M500 1165Q400 1200 340 1290Q380 1310 440 1290L560 1225L760 1210M410 1215L500 1250" fill="none"/><path transform="translate(2545 0) scale(-1 1)" d="M625 500Q560 510 545 580Q540 650 600 700Q660 730 722 747L760 777L800 745Q860 725 900 700M985 615L950 600Q900 590 885 565Q870 530 830 535Q760 540 765 610Q770 662 845 665L1058 800M685 740L688 860M835 740L855 855M1060 870Q1000 855 660 865L470 862Q430 870 445 910Q480 960 560 975Q600 990 660 985L795 975L820 1050M655 865L665 985M820 1035L1050 985M830 1060L1045 1020M925 1020L975 1005L995 1060L950 1075ZM1030 1150L870 1075L800 1065Q740 1070 735 1110Q745 1170 790 1200L860 1190L1020 1195M765 1215L710 1290Q760 1310 800 1285L765 1215M870 1170L910 1270Q900 1300 840 1295L800 1285M545 775L480 640Q455 595 410 600Q375 610 390 650Q385 700 430 718L545 780M285 830L455 795Q480 780 490 745M365 825L405 960M265 890L175 900Q150 880 110 885Q65 890 70 930Q75 960 105 975Q120 1000 165 990L265 1000M265 890V1005M265 1000L480 1030L500 1130M530 1010L545 1115M640 990L640 1110M540 1010L590 1050L635 1000M500 1125L720 1105M505 1160L725 1140M600 1120V1150M690 1110V1140M500 1165Q400 1200 340 1290Q380 1310 440 1290L560 1225L760 1210M410 1215L500 1250" fill="none"/><path d="M920 418A352 352 0 1 1 1624 418A352 352 0 1 1 920 418Z" fill="#fff"/><path d="M878 122L1272 365L1666 122L1272 495Z" fill="#fff"/><path d="M1150 395Q1020 350 990 410Q975 520 1080 570Q1180 600 1272 600Q1364 600 1464 570Q1569 520 1554 410Q1524 350 1394 395M1185 600L1178 742M1359 600L1366 742M1160 745L1272 828L1384 745M1060 830L1050 1045L1020 1280Q1035 1303 1090 1296L1160 1188L1235 1095L1310 1095L1385 1188L1455 1296Q1510 1303 1525 1280L1495 1045L1485 830M1110 1282Q1190 1290 1200 1255L1160 1188M1435 1282Q1355 1290 1345 1255L1385 1188M1065 905H1480M1065 960H1480M1218 905V960M1327 905V960" fill="none"/></g>
</svg>
<h2 class="t s" style="left:1048.8px;top:2474.7px;font-size:31px;line-height:40px;font-weight:500;color:#fff;letter-spacing:3.54px">自分を戦隊ヒーローに例えるなら何色レンジャー？</h2>
<div class="t s" style="left:974.0px;top:2679.0px;font-size:36px;line-height:47px;color:#5bb572">緑</div>
<div class="t s" style="left:896.5px;top:2724.0px;font-size:22px;line-height:29px;color:#5bb572;letter-spacing:2.75px;transform:scaleX(1.069)">（穏やか/着実）</div>
<div class="t s" style="left:920.2px;top:2748.9px;font-size:87px;line-height:113px;color:#5bb572;transform:scaleX(1.124)">33</div>
<div class="t s" style="left:1037.4px;top:2799.7px;font-size:38px;line-height:49px;font-weight:400;color:#5bb572;-webkit-text-stroke:0.84px #5bb572;transform:scaleX(0.938)">%</div>
<div class="t s" style="left:1244.7px;top:2608.0px;font-size:30px;line-height:39px;color:#e3bf55;letter-spacing:3.75px;transform:scaleX(1.019)">黄色</div>
<div class="t s" style="left:1173.6px;top:2650.0px;font-size:18px;line-height:23px;color:#e3bf55;letter-spacing:2.25px;transform:scaleX(1.004)">（明るい/ポジティブ）</div>
<div class="t s" style="left:1222.8px;top:2673.3px;font-size:57px;line-height:74px;color:#e3bf55;transform:scaleX(1.095)">16</div>
<div class="t s" style="left:1300.0px;top:2695.3px;font-size:34px;line-height:44px;font-weight:400;color:#e3bf55;-webkit-text-stroke:0.75px #e3bf55;transform:scaleX(0.964)">%</div>
<div class="t s" style="left:1204.3px;top:2848.0px;font-size:28px;line-height:36px;color:#e0383e">赤</div>
<div class="t s" style="left:1149.5px;top:2881.0px;font-size:18px;line-height:23px;color:#e0383e;letter-spacing:2.25px;transform:scaleX(1.070)">（熱血/元気）</div>
<div class="t s" style="left:1187.2px;top:2900.1px;font-size:49px;line-height:64px;color:#e0383e;transform:scaleX(1.250)">8</div>
<div class="t s" style="left:1226.2px;top:2922.1px;font-size:28px;line-height:36px;font-weight:400;color:#e0383e;-webkit-text-stroke:0.62px #e0383e;transform:scaleX(0.978)">%</div>
<div class="t s" style="left:1416.0px;top:2802.5px;font-size:32px;line-height:42px;color:#0068b4">青</div>
<div class="t s" style="left:1336.4px;top:2844.7px;font-size:18px;line-height:23px;color:#0068b4;letter-spacing:2.25px;transform:scaleX(1.016)">（冷静沈着/頭脳派）</div>
<div class="t s" style="left:1380.4px;top:2870.0px;font-size:57px;line-height:74px;color:#0068b4;transform:scaleX(1.051)">12</div>
<div class="t s" style="left:1454.5px;top:2891.5px;font-size:34px;line-height:44px;font-weight:400;color:#0068b4;-webkit-text-stroke:0.75px #0068b4;transform:scaleX(0.964)">%</div>
<div class="t s" style="left:1486.0px;top:2607.0px;font-size:28px;line-height:36px;color:#a9a9a9">白</div>
<div class="t s" style="left:1417.6px;top:2645.0px;font-size:18px;line-height:23px;color:#a9a9a9;letter-spacing:2.05px">（理想主義/進化）</div>
<div class="t s" style="left:1468.5px;top:2660.3px;font-size:49px;line-height:64px;color:#a9a9a9;transform:scaleX(1.261)">6</div>
<div class="t s" style="left:1507.5px;top:2682.3px;font-size:28px;line-height:36px;font-weight:400;color:#a9a9a9;-webkit-text-stroke:0.62px #a9a9a9;transform:scaleX(0.996)">%</div>
<div class="t s" style="left:1695.1px;top:2591.9px;font-size:32px;line-height:42px;color:#333333">黒</div>
<div class="t s" style="left:1645.0px;top:2633.5px;font-size:19px;line-height:25px;color:#333333;letter-spacing:2.28px">（強者/独立）</div>
<div class="t s" style="left:1666.2px;top:2657.8px;font-size:56px;line-height:73px;color:#333333;transform:scaleX(0.855)">11</div>
<div class="t s" style="left:1728.9px;top:2679.3px;font-size:34px;line-height:44px;font-weight:400;color:#333333;-webkit-text-stroke:0.75px #333333;transform:scaleX(0.929)">%</div>
<div class="t s" style="left:1894.5px;top:2639.0px;font-size:30px;line-height:39px;color:#ee7ba5;letter-spacing:3.75px;transform:scaleX(1.031)">ピンク</div>
<div class="t s" style="left:1851.7px;top:2679.8px;font-size:18px;line-height:23px;color:#ee7ba5;letter-spacing:2.25px;transform:scaleX(1.006)">（優しい/サポート）</div>
<div class="t s" style="left:1901.3px;top:2700.3px;font-size:56px;line-height:73px;color:#ee7ba5;transform:scaleX(0.787)">11</div>
<div class="t s" style="left:1961.0px;top:2721.8px;font-size:34px;line-height:44px;font-weight:400;color:#ee7ba5;-webkit-text-stroke:0.75px #ee7ba5;transform:scaleX(0.986)">%</div>
<div class="t s" style="left:1634.0px;top:2813.4px;font-size:28px;line-height:36px;color:#b78fd0">紫</div>
<div class="t s" style="left:1573.5px;top:2851.0px;font-size:18px;line-height:23px;color:#b78fd0;letter-spacing:2.25px;transform:scaleX(1.021)">（意外性/優雅）</div>
<div class="t s" style="left:1617.5px;top:2869.2px;font-size:47px;line-height:61px;color:#b78fd0;transform:scaleX(1.257)">5</div>
<div class="t s" style="left:1654.9px;top:2889.5px;font-size:28px;line-height:36px;font-weight:400;color:#b78fd0;-webkit-text-stroke:0.62px #b78fd0;transform:scaleX(0.974)">%</div>
<div class="t s" style="left:1012.9px;top:3043.1px;font-size:27.3px;line-height:35px;letter-spacing:1.65px">穏やかで着実なイメージの緑レンジャータイプが最も多い結果に。</div>
<div class="t s" style="left:1171.0px;top:3086.5px;font-size:27.3px;line-height:35px;letter-spacing:1.54px">バルテスはサポートタイプが多いようです</div>
</section>
<section aria-label="取得している資格は？">
<div class="tt" style="left:681px;top:3227.8px;width:798px;height:58.8px"></div>
<div class="bx" style="left:184px;top:3352.8px;width:313px;height:2px;background:#7f9bc8"></div>
<div class="bx" style="left:709.6px;top:3352.8px;width:313.2px;height:2px;background:#7f9bc8"></div>
<div class="bx" style="left:1155.7px;top:3352.8px;width:314.3px;height:2px;background:#7f9bc8"></div>
<div class="bx" style="left:1681.3px;top:3352.8px;width:313.3px;height:2px;background:#7f9bc8"></div>
<div class="bb" style="left:596px;top:4001px;width:1132.4px;height:115.4px;border-radius:57.7px"></div>
<svg width="2160" height="4200" viewBox="0 0 2160 4200" aria-hidden="true">
<g transform="translate(175 3419.8)" fill="#e0be4e"><circle cx="5.5" cy="18.8" r="5.4"/><circle cx="45" cy="4.6" r="5.4"/><circle cx="84.5" cy="18.8" r="5.4"/><path d="M7.4 23.2L19.5 68.7H70.4L82.4 23.2L60.2 33.8L45 9.5L29.7 33.8Z"/></g>
<g transform="translate(175 3538.7)" fill="#b5b5b5"><circle cx="5.5" cy="18.8" r="5.4"/><circle cx="45" cy="4.6" r="5.4"/><circle cx="84.5" cy="18.8" r="5.4"/><path d="M7.4 23.2L19.5 68.7H70.4L82.4 23.2L60.2 33.8L45 9.5L29.7 33.8Z"/></g>
<g transform="translate(175 3657)" fill="#a08c6e"><circle cx="5.5" cy="18.8" r="5.4"/><circle cx="45" cy="4.6" r="5.4"/><circle cx="84.5" cy="18.8" r="5.4"/><path d="M7.4 23.2L19.5 68.7H70.4L82.4 23.2L60.2 33.8L45 9.5L29.7 33.8Z"/></g>
<g transform="translate(1152.7 3419.8)" fill="#e0be4e"><circle cx="5.5" cy="18.8" r="5.4"/><circle cx="45" cy="4.6" r="5.4"/><circle cx="84.5" cy="18.8" r="5.4"/><path d="M7.4 23.2L19.5 68.7H70.4L82.4 23.2L60.2 33.8L45 9.5L29.7 33.8Z"/></g>
<g transform="translate(1152.7 3538.7)" fill="#b5b5b5"><circle cx="5.5" cy="18.8" r="5.4"/><circle cx="45" cy="4.6" r="5.4"/><circle cx="84.5" cy="18.8" r="5.4"/><path d="M7.4 23.2L19.5 68.7H70.4L82.4 23.2L60.2 33.8L45 9.5L29.7 33.8Z"/></g>
<g transform="translate(1152.7 3657)" fill="#a08c6e"><circle cx="5.5" cy="18.8" r="5.4"/><circle cx="45" cy="4.6" r="5.4"/><circle cx="84.5" cy="18.8" r="5.4"/><path d="M7.4 23.2L19.5 68.7H70.4L82.4 23.2L60.2 33.8L45 9.5L29.7 33.8Z"/></g>
<path d="M1162 3982.1 l12 15.7 h-24z" fill="#ecf0f3"/>
</svg>
<h2 class="t s" style="left:928.7px;top:3237.2px;font-size:32px;line-height:42px;font-weight:500;color:#fff;letter-spacing:-0.90px">取得している資格は？</h2>
<div class="t s" style="left:547.6px;top:3342.4px;font-size:24px;line-height:31px;letter-spacing:3.00px;transform:scaleX(1.052)">品質事業</div>
<div class="t s" style="left:1519.3px;top:3342.4px;font-size:24px;line-height:31px;letter-spacing:3.00px;transform:scaleX(1.053)">開発事業</div>
<div class="t s" style="left:211.0px;top:3443.4px;font-size:32px;line-height:42px;color:#fff">1</div>
<div class="t s" style="left:211.0px;top:3562.3px;font-size:32px;line-height:42px;color:#fff">2</div>
<div class="t s" style="left:211.0px;top:3680.6px;font-size:32px;line-height:42px;color:#fff">3</div>
<div class="t s" style="left:1188.7px;top:3443.4px;font-size:32px;line-height:42px;color:#fff">1</div>
<div class="t s" style="left:1188.7px;top:3562.3px;font-size:32px;line-height:42px;color:#fff">2</div>
<div class="t s" style="left:1188.7px;top:3680.6px;font-size:32px;line-height:42px;color:#fff">3</div>
<div class="t m" style="left:309.0px;top:3421.6px;font-size:52px;line-height:68px;font-weight:500;letter-spacing:1.96px">JSTQB (Foundation Level)</div>
<div class="t m" style="left:310.4px;top:3557.5px;font-size:40px;line-height:52px;font-weight:500;letter-spacing:1.90px">基本情報技術者試験</div>
<div class="t m" style="left:308.0px;top:3671.4px;font-size:40px;line-height:52px;font-weight:500;letter-spacing:2.12px">応用情報技術者試験</div>
<div class="t m" style="left:1287.6px;top:3421.6px;font-size:52px;line-height:68px;font-weight:500;letter-spacing:1.89px">JSTQB (Foundation Level)</div>
<div class="t m" style="left:1289.0px;top:3557.5px;font-size:40px;line-height:52px;font-weight:500;letter-spacing:1.91px">基本情報技術者試験</div>
<div class="t m" style="left:1288.6px;top:3671.4px;font-size:40px;line-height:52px;font-weight:500;letter-spacing:1.63px">AWS認定資格</div>
<div class="t s" style="left:175.0px;top:3799.5px;font-size:32px;line-height:42px;font-weight:400;transform:scaleX(1.010)">4位</div>
<div class="t s" style="left:236.8px;top:3788.0px;font-size:32px;line-height:42px;font-weight:400;-webkit-text-stroke:0.38px #0d2d6c;transform:scaleX(1.042)">…</div>
<div class="t s" style="left:173.9px;top:3870.5px;font-size:32px;line-height:42px;font-weight:400;transform:scaleX(1.032)">5位</div>
<div class="t s" style="left:236.8px;top:3859.0px;font-size:32px;line-height:42px;font-weight:400;-webkit-text-stroke:0.38px #0d2d6c;transform:scaleX(1.042)">…</div>
<div class="t s" style="left:1152.7px;top:3799.5px;font-size:32px;line-height:42px;font-weight:400;transform:scaleX(1.010)">4位</div>
<div class="t s" style="left:1214.5px;top:3788.0px;font-size:32px;line-height:42px;font-weight:400;-webkit-text-stroke:0.38px #0d2d6c;transform:scaleX(1.042)">…</div>
<div class="t s" style="left:1151.6px;top:3870.5px;font-size:32px;line-height:42px;font-weight:400;transform:scaleX(1.032)">5位</div>
<div class="t s" style="left:1214.5px;top:3859.0px;font-size:32px;line-height:42px;font-weight:400;-webkit-text-stroke:0.38px #0d2d6c;transform:scaleX(1.042)">…</div>
<div class="t s" style="left:311.4px;top:3798.0px;font-size:33px;line-height:43px;letter-spacing:-0.16px">TOEIC（600点～800点）</div>
<div class="t s" style="left:310.4px;top:3867.5px;font-size:33px;line-height:43px;letter-spacing:0.34px">JSTQB認定テスト技術者(Advanced Level-TM)</div>
<div class="t s" style="left:1288.6px;top:3798.0px;font-size:33px;line-height:43px;letter-spacing:0.35px">応用情報技術者試験</div>
<div class="t s" style="left:1287.6px;top:3869.0px;font-size:33px;line-height:43px;letter-spacing:0.52px">UX検定/TOEIC（600点～800点）</div>
<div class="t s" style="left:661.4px;top:4043.5px;font-size:25.5px;line-height:33px;letter-spacing:1.03px">バルテスでは入社後にJSTQB（Foundation Level）の取得をしていただいています</div>
</section>
</body></html>
